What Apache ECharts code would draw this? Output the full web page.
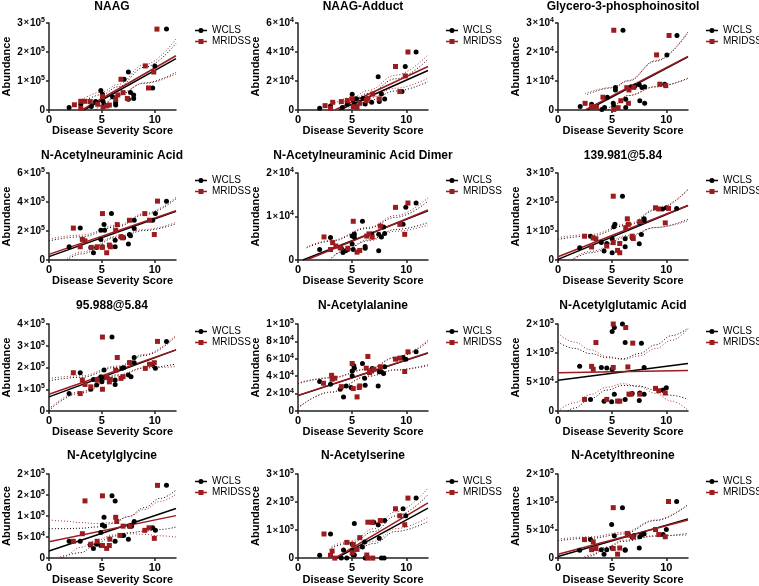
<!DOCTYPE html>
<html>
<head>
<meta charset="utf-8">
<script src="https://cdn.jsdelivr.net/npm/echarts@6/dist/echarts.min.js"></script>
<style>
  html, body { margin: 0; padding: 0; background: #fff; }
  #chart { width: 759px; height: 586px; }
</style>
</head>
<body>
<div id="chart"></div>
<script>
// panel titles, read row by row
const titles = [
  'NAAG', 'NAAG-Adduct', 'Glycero-3-phosphoinositol',
  'N-Acetylneuraminic Acid', 'N-Acetylneuraminic Acid Dimer', '139.981@5.84',
  '95.988@5.84', 'N-Acetylalanine', 'N-Acetylglutamic Acid',
  'N-Acetylglycine', 'N-Acetylserine', 'N-Acetylthreonine'
];

// y axis (values are kept in the unit of each panel's tick labels)
const yMax = [3, 6, 3, 6, 2, 3, 4, 10, 1.5, 2, 3, 1.5];
const yStep = [1, 2, 1, 2, 1, 1, 1, 2, 0.5, 0.5, 1, 0.5];
// tick labels as [mantissa, exponent]
const yLabels = [
  [['0'], ['1', 5], ['2', 5], ['3', 5]],
  [['0'], ['2', 4], ['4', 4], ['6', 4]],
  [['0'], ['1', 4], ['2', 4], ['3', 4]],
  [['0'], ['2', 5], ['4', 5], ['6', 5]],
  [['0'], ['1', 4], ['2', 4]],
  [['0'], ['1', 5], ['2', 5], ['3', 5]],
  [['0'], ['1', 5], ['2', 5], ['3', 5], ['4', 5]],
  [['0'], ['2', 4], ['4', 4], ['6', 4], ['8', 4], ['1', 5]],
  [['0'], ['5', 4], ['1', 5], ['2', 5]],
  [['0'], ['5', 4], ['1', 5], ['2', 5], ['2', 5]],
  [['0'], ['1', 5], ['2', 5], ['3', 5]],
  [['0'], ['5', 4], ['1', 5], ['2', 5]]
];
const xTicks = [0, 5, 10];

// scatter points [severity score, abundance]
const wclsPoints = [
  [[1.9,0.09],[3.0,0.2],[4.0,0.12],[4.4,0.29],[4.9,0.67],[5.05,0.54],[5.1,0.3],[5.2,0.2],[6.0,0.46],[6.3,0.25],[6.3,0.17],[7.1,1.06],[7.5,1.31],[7.5,0.37],[7.7,0.6],[8.0,0.52],[8.0,0.4],[9.8,0.76],[10.0,1.52],[11.1,2.79]],
  [[2.0,0.12],[3.0,0.28],[4.1,0.18],[4.55,0.42],[5.0,1.08],[5.1,0.7],[5.2,0.42],[5.4,0.78],[6.0,0.8],[6.2,0.42],[6.8,0.53],[7.4,2.3],[7.5,0.58],[7.7,1.1],[8.0,0.76],[9.6,1.27],[9.9,3.0],[10.9,4.0]],
  [[2.05,0.12],[3.1,0.2],[3.2,0.1],[4.05,0.02],[4.3,0.09],[4.55,0.44],[5.1,0.23],[5.15,0.12],[5.3,0.78],[5.3,0.69],[6.0,2.75],[6.25,0.37],[6.25,0.09],[6.75,0.8],[7.1,0.83],[7.5,0.87],[7.55,0.32],[7.75,0.78],[8.0,0.23],[8.0,0.8],[9.85,0.89],[10.05,1.9],[10.98,2.57]],
  [[1.9,0.91],[2.95,2.2],[3.95,0.87],[4.2,0.5],[4.5,0.87],[4.9,1.42],[4.9,2.05],[5.05,0.91],[5.2,2.44],[5.25,2.05],[5.9,3.2],[6.25,1.37],[6.25,0.91],[6.85,1.6],[7.05,1.53],[7.5,1.1],[7.6,1.76],[7.7,1.67],[8.05,2.74],[8.05,2.17],[9.8,2.74],[10.05,3.2],[11.1,4.06]],
  [[2.0,0.24],[3.0,0.52],[4.0,0.27],[4.15,0.17],[4.4,0.21],[4.6,0.24],[5.0,0.55],[5.0,0.37],[5.1,0.24],[5.2,0.6],[5.2,0.53],[5.95,0.89],[6.2,0.31],[6.2,0.27],[6.8,0.6],[7.45,0.21],[7.45,0.59],[7.7,0.53],[7.9,0.76],[8.0,0.61],[9.7,0.82],[9.95,1.21],[10.9,1.31]],
  [[2.0,0.42],[3.0,0.82],[4.0,0.6],[4.25,0.31],[4.5,0.57],[5.0,0.73],[5.0,0.25],[5.15,1.15],[5.25,1.23],[5.95,2.2],[6.2,0.46],[6.2,0.73],[6.85,0.77],[7.5,0.56],[7.55,1.28],[7.7,0.88],[7.95,1.36],[7.95,1.42],[9.65,1.76],[10.0,1.8],[10.95,1.78]],
  [[1.9,0.8],[2.95,1.76],[3.95,1.0],[4.2,1.45],[4.5,1.19],[4.9,1.45],[4.9,1.58],[5.0,1.34],[5.2,1.88],[5.3,1.54],[5.95,3.4],[6.25,1.22],[6.25,1.42],[6.9,1.96],[7.05,1.99],[7.5,1.65],[7.6,2.22],[7.75,1.58],[8.05,2.46],[8.05,2.22],[9.8,2.15],[10.05,1.96],[11.1,3.2]],
  [[2.0,3.38],[3.0,3.08],[3.9,2.5],[4.2,1.62],[4.45,2.88],[4.9,2.7],[5.0,4.6],[5.0,4.04],[5.15,5.2],[5.2,4.92],[5.95,5.46],[6.15,3.77],[6.2,2.96],[6.85,4.88],[7.0,4.8],[7.4,2.88],[7.5,4.5],[7.7,4.5],[7.9,4.3],[8.0,5.08],[9.7,6.15],[9.95,5.96],[10.9,6.8]],
  [[2.0,0.77],[3.0,0.2],[4.0,0.75],[4.25,0.17],[4.5,0.74],[4.95,0.16],[5.0,1.37],[5.0,0.72],[5.2,0.29],[5.2,1.44],[5.95,1.5],[6.2,1.18],[6.2,0.2],[6.85,0.3],[7.5,0.18],[7.55,0.31],[7.7,1.17],[7.95,0.75],[7.95,0.29],[9.7,0.36],[10.0,0.4]],
  [[1.9,0.4],[2.95,0.4],[3.9,0.31],[4.2,0.23],[4.5,0.33],[4.9,0.61],[4.9,0.3],[5.05,0.79],[5.2,0.97],[5.25,0.76],[5.95,1.48],[6.25,1.36],[6.25,0.4],[6.9,0.54],[7.05,0.54],[7.5,0.45],[7.6,0.76],[7.8,0.76],[8.05,0.87],[9.8,0.72],[10.05,0.66],[11.1,1.73]],
  [[2.0,0.1],[3.0,0.86],[4.0,0],[4.2,0.29],[4.5,0],[5.0,0.5],[5.0,0.27],[5.1,0.11],[5.2,0.11],[5.2,1.23],[5.95,0.4],[6.15,0.57],[6.2,0],[6.85,1.28],[7.0,1.28],[7.4,1.19],[7.5,0.71],[7.7,0],[7.95,0],[8.0,1.34],[9.7,1.76],[9.95,1.51],[10.9,2.14]],
  [[2.0,0.14],[3.0,0.33],[4.0,0.15],[4.25,0.07],[4.5,0.15],[4.95,0.6],[5.0,0.18],[5.2,0.4],[5.95,0.9],[6.2,0.15],[6.2,0.14],[6.85,0.37],[7.0,0.4],[7.5,0.18],[7.55,0.38],[7.7,0.41],[7.95,0.43],[9.7,0.42],[10.0,0.51],[10.95,1.01]]
];
const mridssPoints = [
  [[2.4,0.18],[3.0,0.3],[3.4,0.3],[3.0,0.06],[3.9,0.29],[4.6,0.2],[5.05,0.46],[5.1,0.09],[5.45,0.14],[5.7,0.17],[6.3,0.37],[6.5,0.52],[6.8,1.06],[7.0,0.6],[7.4,0.4],[9.1,1.52],[9.4,0.76],[9.9,1.31],[10.2,2.79]],
  [[2.5,0.3],[3.0,0.12],[3.2,0.53],[4.0,0.58],[4.55,0.65],[5.0,0.78],[5.1,0.23],[5.45,0.18],[5.7,0.46],[6.3,0.65],[6.45,0.8],[6.9,1.1],[7.5,0.76],[9.0,3.0],[9.4,1.27],[9.9,2.35],[10.15,4.0]],
  [[2.5,0.23],[3.1,0.12],[3.3,0.09],[3.55,0.09],[4.15,0.44],[5.15,2.75],[5.15,0.02],[5.55,0.08],[5.8,0.32],[6.35,0.77],[6.55,0.69],[6.5,0.23],[7.0,0.78],[9.1,1.9],[9.4,0.89],[9.95,0.84],[10.25,2.57]],
  [[2.3,2.2],[2.95,0.91],[3.15,1.42],[3.4,1.32],[4.0,0.87],[4.55,0.91],[5.05,3.2],[5.05,0.87],[5.45,0.5],[5.7,1.03],[5.8,0.91],[6.3,2.05],[6.45,2.44],[6.8,1.6],[6.95,1.53],[7.6,2.74],[9.05,3.2],[9.5,2.74],[9.95,1.76],[10.25,4.06]],
  [[2.4,0.53],[3.0,0.24],[3.2,0.4],[3.5,0.32],[3.9,0.28],[4.6,0.27],[5.1,0.89],[5.45,0.18],[5.7,0.22],[6.35,0.55],[6.55,0.6],[6.85,0.53],[7.6,0.78],[9.0,1.21],[9.4,0.82],[9.85,0.59],[10.15,1.31]],
  [[2.45,0.82],[3.1,0.45],[3.25,0.76],[3.5,0.73],[4.5,0.48],[5.1,2.2],[5.1,0.6],[5.5,0.33],[5.7,0.25],[5.7,0.57],[6.25,1.11],[6.4,1.42],[6.5,1.23],[6.85,0.82],[6.95,0.74],[7.55,1.32],[9.0,1.8],[9.3,1.76],[9.9,1.28],[10.2,1.78]],
  [[2.3,1.76],[2.95,0.8],[3.15,1.42],[3.4,1.22],[3.95,1.11],[4.55,1.42],[5.05,3.4],[5.05,1.0],[5.45,1.54],[5.7,1.34],[5.8,1.45],[6.3,1.88],[6.45,2.46],[6.8,1.5],[7.0,1.58],[7.6,2.22],[9.1,1.96],[9.5,2.15],[9.95,2.22],[10.25,3.2]],
  [[2.35,3.19],[3.1,4.1],[3.15,3.65],[3.4,3.77],[4.0,2.8],[5.0,5.46],[5.1,2.58],[5.45,1.62],[5.65,2.7],[5.7,2.88],[6.3,4.92],[6.45,6.27],[6.6,4.42],[6.8,4.6],[7.0,4.8],[7.6,5.08],[9.0,5.96],[9.4,6.08],[9.85,4.54],[10.15,6.8]],
  [[2.45,0.2],[3.1,0.77],[3.25,0.72],[3.5,1.18],[4.5,0.2],[5.1,1.5],[5.1,0.75],[5.5,0.17],[5.7,0.17],[6.25,1.44],[6.45,0.76],[6.55,0.29],[6.75,0.29],[6.9,1.17],[7.55,0.29],[9.0,0.39],[9.3,0.35],[9.9,0.31]],
  [[2.3,0.4],[3.15,0.58],[3.4,1.36],[3.95,0.33],[4.55,0.4],[5.05,1.48],[5.05,0.3],[5.45,0.23],[5.7,0.3],[5.75,0.45],[6.3,0.97],[6.4,0.87],[6.7,0.54],[7.0,0.76],[7.65,0.76],[9.05,0.66],[9.45,0.72],[9.95,0.47],[10.25,1.73]],
  [[2.4,0.86],[3.0,0.1],[3.15,0.25],[3.4,0],[4.5,0.56],[5.0,0.19],[5.1,0.48],[5.45,0.31],[5.7,0.73],[6.35,0.11],[6.45,1.28],[6.45,0],[6.85,1.28],[6.9,0],[7.6,1.34],[9.0,1.76],[9.4,1.51],[9.85,1.19],[10.15,2.14]],
  [[2.45,0.33],[3.1,0.15],[3.25,0.29],[3.5,0.17],[5.1,0.9],[5.1,0.17],[5.5,0.07],[5.7,0.18],[6.4,0.44],[6.5,0.41],[6.95,0.38],[9.0,0.51],[9.3,0.42],[9.9,0.38],[10.2,1.01]]
];

// fitted lines, read end to end
const wclsFit = [
  [[3.3,0],[12,1.77]], [[3.8,0],[12,2.72]], [[2.7,0],[12,1.83]],
  [[0,0.23],[12,3.36]], [[0.45,0],[12,1.13]], [[0,0.02],[12,1.88]],
  [[0,0.65],[12,2.81]], [[0,1.77],[12,6.65]], [[0,0.53],[12,0.82]],
  [[0,0.17],[12,1.18]], [[3.55,0],[12,1.78]], [[0,0.03],[12,0.7]]
];
const mridssFit = [
  [[3.1,0],[12,1.87]], [[3.4,0],[12,3.0]], [[2.5,0],[12,1.85]],
  [[0,0.39],[12,3.4]], [[0.77,0],[12,1.15]], [[0,0.11],[12,1.88]],
  [[0,0.77],[12,2.81]], [[0,1.8],[12,6.7]], [[0,0.66],[12,0.7]],
  [[0,0.39],[12,1.01]], [[3.4,0],[12,1.97]], [[0,0.07],[12,0.68]]
];

// confidence bands (dotted), upper and lower
const wclsUpper = [
  [[3.3,0.3],[5,0.53],[6.5,0.8],[9,1.47],[12,2.3]],
  [[3.8,0.4],[5,0.7],[6.5,1.15],[9,2.15],[12,3.5]],
  [[2.7,0.54],[5,0.76],[6.5,1.0],[9,1.68],[12,2.67]],
  [[0,1.32],[3,1.6],[6.5,2.3],[9,3.13],[12,4.22]],
  [[0.8,0.28],[3,0.43],[6.5,0.73],[9,0.98],[12,1.35]],
  [[0,0.71],[3,0.83],[6.5,1.2],[9,1.72],[12,2.43]],
  [[0,1.39],[3,1.55],[6.5,2.02],[9,2.55],[12,3.43]],
  [[0,3.15],[3,3.8],[6.5,4.8],[9,6.13],[12,7.96]],
  [[0,1.19],[1.5,1.08],[3,0.99],[4.5,0.92],[6,0.9],[7.5,0.99],[9,1.14],[10.5,1.3],[12,1.43]],
  [[0,0.7],[1.5,0.7],[3,0.71],[4.5,0.74],[6,0.82],[7.5,0.99],[9,1.2],[10.5,1.42],[12,1.62]],
  [[3.1,0.37],[5,0.55],[7,0.95],[9,1.5],[12,2.26]],
  [[0,0.31],[3,0.355],[6,0.43],[9,0.67],[12,0.95]]
];
const wclsLower = [
  [[4.4,0],[5,0.16],[6.5,0.5],[9,0.93],[12,1.3]],
  [[4.75,0],[5,0.1],[6.5,0.65],[9,1.31],[12,1.95]],
  [[4.6,0],[5,0.15],[6.5,0.5],[9,0.8],[12,1.1]],
  [[1.7,0],[3,0.42],[6.5,1.57],[9,2.03],[12,2.5]],
  [[2.9,0],[4,0.19],[6.5,0.46],[9,0.7],[12,0.86]],
  [[1.3,0],[3,0.25],[6.5,0.8],[9,1.12],[12,1.4]],
  [[0,0.03],[3,0.83],[6.5,1.62],[9,1.98],[12,2.16]],
  [[0,0.38],[3,2.17],[6.5,4.0],[9,4.73],[12,5.3]],
  [[0.9,0],[1.5,0.05],[3,0.21],[4.5,0.36],[6,0.44],[7.5,0.43],[9,0.36],[10.5,0.27],[12,0.2]],
  [[1.1,0],[3,0.13],[4.5,0.35],[6,0.52],[7.5,0.6],[9,0.64],[10.5,0.68],[12,0.74]],
  [[4.7,0],[7,0.52],[9,0.95],[12,1.3]],
  [[2.5,0],[3,0.04],[4.5,0.18],[6,0.3],[9,0.39],[12,0.44]]
];
const mridssUpper = [
  [[3.1,0.36],[5,0.62],[6.5,0.88],[9,1.56],[12,2.45]],
  [[3.4,0.47],[5,0.88],[6.5,1.35],[9,2.4],[12,3.8]],
  [[2.5,0.57],[5,0.78],[6.5,1.02],[9,1.7],[12,2.7]],
  [[0,1.45],[3,1.72],[6.5,2.4],[9,3.2],[12,4.34]],
  [[0.8,0.3],[3,0.45],[6.5,0.75],[9,1.02],[12,1.43]],
  [[0,0.77],[3,0.88],[6.5,1.25],[9,1.75],[12,2.43]],
  [[0,1.5],[3,1.62],[6.5,2.07],[9,2.6],[12,3.5]],
  [[0,3.25],[3,3.85],[6.5,4.85],[9,6.2],[12,8.15]],
  [[0,1.34],[1.5,1.19],[3,1.055],[4.5,0.94],[6,0.89],[7.5,0.95],[9,1.075],[10.5,1.22],[12,1.42]],
  [[0,0.91],[1.5,0.88],[3,0.845],[4.5,0.82],[6,0.85],[7.5,0.98],[9,1.155],[10.5,1.35],[12,1.52]],
  [[3.1,0.42],[5,0.62],[7,1.05],[9,1.65],[12,2.5]],
  [[0,0.34],[3,0.38],[6,0.46],[9,0.68],[12,0.96]]
];
const mridssLower = [
  [[4.3,0],[5,0.18],[6.5,0.54],[9,0.92],[12,1.24]],
  [[4.45,0],[5,0.24],[6.5,0.81],[9,1.5],[12,2.2]],
  [[4.5,0],[5,0.13],[6.5,0.5],[9,0.8],[12,1.08]],
  [[1.5,0],[3,0.55],[6.5,1.65],[9,2.1],[12,2.6]],
  [[3.0,0],[4,0.18],[6.5,0.44],[9,0.66],[12,0.8]],
  [[1.2,0],[3,0.3],[6.5,0.85],[9,1.12],[12,1.35]],
  [[0,0.1],[3,0.9],[6.5,1.67],[9,1.98],[12,2.04]],
  [[0,0.35],[3,2.15],[6.5,4.0],[9,4.7],[12,5.2]],
  [[0,0],[1.5,0.14],[3,0.285],[4.5,0.41],[6,0.47],[7.5,0.42],[9,0.305],[10.5,0.17],[12,0.01]],
  [[0.8,0],[1.5,0.06],[3,0.255],[4.5,0.42],[6,0.55],[7.5,0.58],[9,0.565],[10.5,0.53],[12,0.5]],
  [[4.6,0],[7,0.6],[9,1.05],[12,1.45]],
  [[2.2,0],[3,0.06],[4.5,0.2],[6,0.32],[9,0.4],[12,0.41]]
];

// layout
const FONT = '"Liberation Sans", Arial, Helvetica, sans-serif';
const colLeft = [48, 298, 558];
const colWidth = [128, 130, 130];
const rowTop = [23, 173, 324, 474];
const titleTop = [1, 150, 300, 450];
const legendLeft = [195, 446, 706];
const plotH = 87;
const BLACK = '#000000';
const RED = '#9b1b1f';
const RED_DOT = '#a8343a';

const circleIcon = 'path://M0,3.5H24V6.5H0Z M12,0A5,5 0 1 1 11.99,0Z';
const squareIcon = 'path://M0,3.5H24V6.5H0Z M7,0H17V10H7Z';

const chart = echarts.init(document.getElementById('chart'));

const grids = [], xAxes = [], yAxes = [], titleArr = [], legends = [], series = [];

titles.forEach((t, i) => {
  const r = Math.floor(i / 3), c = i % 3;
  grids.push({ left: colLeft[c], top: rowTop[r], width: colWidth[c], height: plotH });
  titleArr.push({
    text: t, left: colLeft[c] + colWidth[c] / 2, top: titleTop[r], textAlign: 'center', padding: 0,
    textStyle: { fontFamily: FONT, fontSize: 12, fontWeight: 'bold', color: '#000' }
  });
  legends.push({
    left: legendLeft[c], top: rowTop[r] + 2, orient: 'vertical', padding: 0,
    itemWidth: 12, itemHeight: 5, itemGap: 0,
    textStyle: { fontFamily: FONT, fontSize: 10, lineHeight: 11, color: '#000' },
    data: [{ name: 'WCLS', icon: circleIcon }, { name: 'MRIDSS', icon: squareIcon }]
  });
  xAxes.push({
    type: 'value', gridIndex: i, min: 0, max: 12, interval: 5,
    name: 'Disease Severity Score', nameLocation: 'middle', nameGap: 13,
    nameTextStyle: { fontFamily: FONT, fontSize: 11, fontWeight: 'bold', color: '#000' },
    axisLine: { onZero: false, lineStyle: { color: '#222', width: 1.5 } },
    axisTick: { show: true, length: 3, customValues: xTicks, lineStyle: { color: '#222', width: 1.5 } },
    axisLabel: { customValues: xTicks, margin: 4, fontFamily: FONT, fontSize: 11, fontWeight: 'bold', color: '#000' },
    splitLine: { show: false }
  });
  yAxes.push({
    type: 'value', gridIndex: i, min: 0, max: yMax[i], interval: yStep[i],
    name: 'Abundance', nameLocation: 'middle', nameGap: 37, nameRotate: 90,
    nameTextStyle: { fontFamily: FONT, fontSize: 11, fontWeight: 'bold', color: '#000' },
    axisLine: { show: true, onZero: false, lineStyle: { color: '#222', width: 1.5 } },
    axisTick: { show: true, length: 3, lineStyle: { color: '#222', width: 1.5 } },
    axisLabel: {
      margin: 4, fontFamily: FONT, fontSize: 10, fontWeight: 'bold', color: '#000',
      formatter: v => {
        const lab = yLabels[i][Math.round(v / yStep[i])];
        if (!lab) return '';
        if (lab.length === 1) return '{m|' + lab[0] + '}';
        return '{m|' + lab[0] + '}{x|×}{m|10}{e|' + lab[1] + '}';
      },
      rich: {
        m: { fontFamily: FONT, fontSize: 10, fontWeight: 'bold', color: '#000' },
        x: { fontFamily: FONT, fontSize: 9, color: '#000', padding: [0, 1, 0, 1] },
        e: { fontFamily: FONT, fontSize: 7, fontWeight: 'bold', color: '#000', padding: [0, 0, 6, 0] }
      }
    },
    splitLine: { show: false }
  });

  const band = (name, data, color) => ({
    name: name, type: 'line', xAxisIndex: i, yAxisIndex: i, data: data,
    symbol: 'none', smooth: 0.4, smoothMonotone: 'x', silent: true, z: 2,
    lineStyle: { color: color, width: 1, type: [1, 2] }
  });
  const fit = (name, data, color) => ({
    name: name, type: 'line', xAxisIndex: i, yAxisIndex: i, data: data,
    symbol: 'none', silent: true, z: 3,
    lineStyle: { color: color, width: 1.5 }
  });
  series.push(
    band('WCLS band', wclsUpper[i], BLACK),
    band('WCLS band', wclsLower[i], BLACK),
    band('MRIDSS band', mridssUpper[i], RED_DOT),
    band('MRIDSS band', mridssLower[i], RED_DOT),
    fit('WCLS fit', wclsFit[i], BLACK),
    fit('MRIDSS fit', mridssFit[i], RED),
    {
      name: 'WCLS', type: 'scatter', xAxisIndex: i, yAxisIndex: i, data: wclsPoints[i],
      symbol: 'circle', symbolSize: 5, itemStyle: { color: BLACK, opacity: 1 }, z: 4
    },
    {
      name: 'MRIDSS', type: 'scatter', xAxisIndex: i, yAxisIndex: i, data: mridssPoints[i],
      symbol: 'rect', symbolSize: 5, itemStyle: { color: RED, opacity: 1 }, z: 4
    }
  );
});

chart.setOption({
  animation: false,
  backgroundColor: '#fff',
  title: titleArr,
  legend: legends,
  grid: grids,
  xAxis: xAxes,
  yAxis: yAxes,
  series: series
});
</script>
</body>
</html>
